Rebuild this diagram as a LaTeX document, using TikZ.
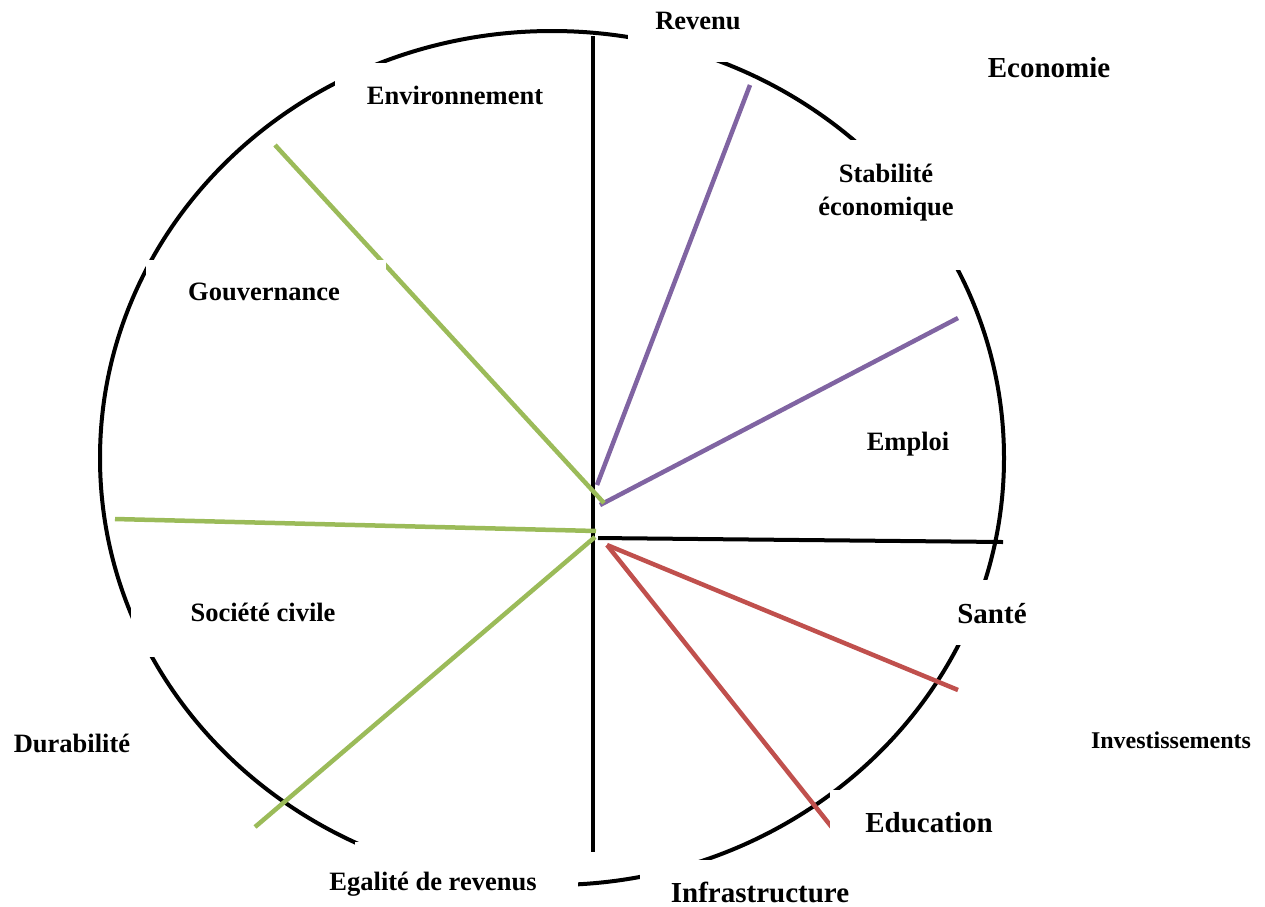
\documentclass[tikz,border=0pt]{standalone}
\usepackage{fontspec}
\setmainfont{Liberation Serif}
\definecolor{lgreen}{HTML}{9BBB59}
\definecolor{lpurple}{HTML}{8064A2}
\definecolor{lred}{HTML}{C0504D}
\begin{document}
\begin{tikzpicture}[x=1pt,y=-1pt,
  lab/.style={font=\bfseries\fontsize{26.5}{31}\selectfont, inner sep=0pt, anchor=base},
  big/.style={lab, font=\bfseries\fontsize{29}{34}\selectfont},
  small/.style={lab, font=\bfseries\fontsize{24}{28}\selectfont},
  ray/.style={line width=4pt},
  cray/.style={line width=4.5pt},
  mask/.style={fill=white, draw=none}]
\useasboundingbox (0,0) rectangle (1265,906);
% outer ring
\draw[line width=4pt] (552,458) ellipse [x radius=452, y radius=427];
% end points
\coordinate (vt) at (593,36);  \coordinate (vb) at (593,852);
\coordinate (hl) at (598,538); \coordinate (hr) at (1003,542);
\coordinate (pr0) at (597,485); \coordinate (pr1) at (750,85);
\coordinate (pe0) at (600,505); \coordinate (pe1) at (958,318);
\coordinate (gg0) at (604,503); \coordinate (gg1) at (275,145);
\coordinate (gs0) at (596,531); \coordinate (gs1) at (115,519);
\coordinate (gd0) at (595,537); \coordinate (gd1) at (255,827);
\coordinate (rs0) at (607,545); \coordinate (rs1) at (958,690);
\coordinate (re0) at (607,545); \coordinate (re1) at (842,840);
% axes
\draw[ray] (vt) -- (vb);
\draw[ray] (hl) -- (hr);
% coloured rays
\draw[cray, lpurple] (pr0) -- (pr1);
\draw[cray, lpurple] (pe0) -- (pe1);
\draw[cray, lgreen] (gg0) -- (gg1);
\draw[cray, lgreen] (gs0) -- (gs1);
\draw[cray, lgreen] (gd0) -- (gd1);
\draw[cray, lred] (rs0) -- (rs1);
\draw[cray, lred] (re0) -- (re1);
% white label boxes that break the ring
\fill[mask] (335,63) rectangle (585,135);
\fill[mask] (628,0) rectangle (770,62);
\fill[mask] (800,140) rectangle (975,270);
\fill[mask] (146,260) rectangle (386,325);
\fill[mask] (131,578) rectangle (360,657);
\fill[mask] (355,842) rectangle (578,906);
\fill[mask] (640,860) rectangle (870,906);
\fill[mask] (830,790) rectangle (1010,860);
\fill[mask] (935,580) rectangle (1045,645);
% labels
\node[lab] (env) at (455,104) {Environnement};
\node[lab] (rev) at (698,29) {Revenu};
\node[big] (eco) at (1049,77) {Economie};
\node[lab] (stab1) at (886,182) {Stabilité};
\node[lab] (stab2) at (886,215) {économique};
\node[lab] (gouv) at (264,300) {Gouvernance};
\node[lab] (empl) at (908,450) {Emploi};
\node[big] (sante) at (992,623) {Santé};
\node[lab] (soc) at (263,621) {Société civile};
\node[small] (inv) at (1171,748) {Investissements};
\node[lab] (dur) at (72,752) {Durabilité};
\node[big] (edu) at (929,832) {Education};
\node[lab] (ega) at (433,890) {Egalité de revenus};
\node[big] (inf) at (760,902) {Infrastructure};
\end{tikzpicture}
\end{document}
